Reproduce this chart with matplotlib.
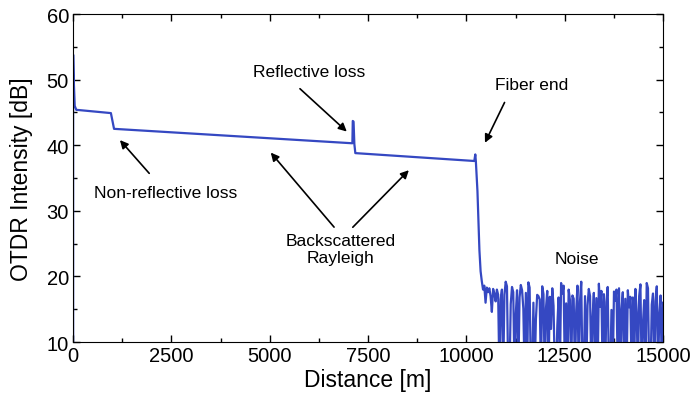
import numpy as np
import matplotlib.pyplot as plt
from matplotlib.ticker import MultipleLocator

plt.rcParams['font.family'] = ['Liberation Sans', 'DejaVu Sans']

# OTDR trace: fibre section (distance in m, intensity in dB)
trace_dist = [0, 0, 15, 40, 80, 960, 1040, 7100, 7110, 7130, 7150, 7175,
              10200, 10225, 10240, 10280, 10330, 10360]
trace_db = [10, 53.8, 50.0, 46.0, 45.4, 44.9, 42.5, 40.3, 43.7, 43.6, 40.2, 38.8,
            37.6, 38.6, 37.5, 33.0, 24.0, 20.8]

# noise floor after the fibre end (low ones clip at the axis)
noise_db = [19.3, 18.0, 18.6, 16.0, 18.3, 17.6, 18.2, 17.0, 14.6, 18.1, 17.4, 16.2, 18.0, 17.2,
            5, 16.5, 18.0, 5, 17.2, 19.2, 18.5, 5, 5, 15.8, 18.4, 17.6, 5, 14.2, 17.9, 5,
            16.8, 18.7, 17.9, 15.1, 5, 17.5, 5, 19.1, 18.3, 5, 5, 16.0, 5, 13.5, 17.2, 17.0,
            16.5, 5, 18.5, 17.3, 5, 15.2, 17.8, 5, 16.9, 12.0, 18.2, 15.5, 5, 5, 12.5, 16.8,
            5, 19.0, 17.4, 18.6, 5, 15.9, 5, 18.0, 16.4, 5, 17.1, 16.6, 5, 14.8, 18.6, 5,
            16.2, 19.2, 5, 5, 17.0, 5, 15.6, 18.1, 17.0, 5, 13.8, 17.5, 5, 16.7, 5, 18.9,
            15.4, 17.8, 5, 17.3, 5, 16.1, 18.4, 5, 5, 14.9, 5, 17.7, 16.3, 18.0, 5, 18.2,
            5, 15.0, 17.6, 5, 16.6, 5, 17.9, 15.3, 16.9, 5, 16.8, 5, 18.1, 14.6, 5, 17.0,
            18.8, 5, 12.8, 16.4, 5, 19.0, 18.2, 5, 5, 15.7, 17.4, 5, 16.2, 18.5, 5, 14.3,
            17.1, 5, 16.0]
noise_dist = np.linspace(10390, 15000, len(noise_db))

dist = np.concatenate([trace_dist, noise_dist])
db = np.concatenate([trace_db, noise_db])

fig = plt.figure(figsize=(6.9, 4.06), dpi=100)
ax = fig.add_axes([0.106, 0.155, 0.855, 0.808])
ax.plot(dist, db, color='#3548c2', lw=1.6)

ax.set_xlim(0, 15000)
ax.set_ylim(10, 60)
ax.xaxis.set_major_locator(MultipleLocator(2500))
ax.xaxis.set_minor_locator(MultipleLocator(1250))
ax.yaxis.set_major_locator(MultipleLocator(10))
ax.yaxis.set_minor_locator(MultipleLocator(5))
ax.tick_params(which='both', direction='in', top=True, right=True, labelsize=14.5, width=1)
ax.tick_params(which='major', length=5, pad=3)
ax.tick_params(which='minor', length=3)
ax.set_xlabel('Distance [m]', fontsize=16.5, labelpad=2)
ax.set_ylabel('OTDR Intensity [dB]', fontsize=16.5, labelpad=10)

arr = dict(arrowstyle='-|>', color='black', lw=1.2, mutation_scale=12)
fs = 12.5
ax.text(6000, 51.2, 'Reflective loss', ha='center', va='center', fontsize=fs)
ax.annotate('', xy=(7010, 41.8), xytext=(5715, 48.9), arrowprops=arr)
ax.text(11650, 49.2, 'Fiber end', ha='center', va='center', fontsize=fs)
ax.annotate('', xy=(10440, 40.0), xytext=(11000, 46.9), arrowprops=arr)
ax.text(2362, 32.8, 'Non-reflective loss', ha='center', va='center', fontsize=fs)
ax.annotate('', xy=(1143, 41.1), xytext=(1981, 35.4), arrowprops=arr)
ax.text(6807, 24.2, 'Backscattered\nRayleigh', ha='center', va='center', fontsize=fs,
        linespacing=1.2)
ax.annotate('', xy=(4979, 39.2), xytext=(6680, 27.2), arrowprops=arr)
ax.annotate('', xy=(8585, 36.5), xytext=(7061, 27.2), arrowprops=arr)
ax.text(12800, 22.8, 'Noise', ha='center', va='center', fontsize=fs)

fig.savefig('out.png', dpi=100)
